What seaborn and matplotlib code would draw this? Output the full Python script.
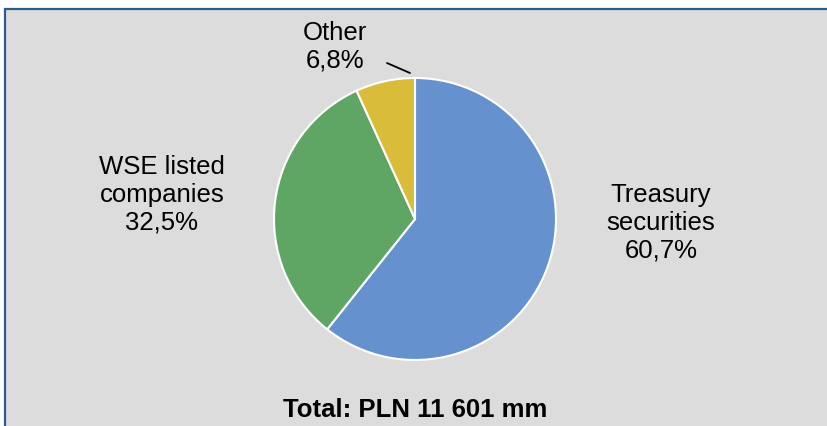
import matplotlib
matplotlib.use("Agg")
import matplotlib.pyplot as plt
from matplotlib.patches import Rectangle
import seaborn as sns

# Portfolio structure
categories = ["Treasury\nsecurities", "WSE listed\ncompanies", "Other"]
shares = [60.7, 32.5, 6.8]
colors = ["#6592CE", "#5FA563", "#D8BC3A"]
total_label = "Total: PLN 11 601 mm"

sns.set_theme(style="white")
plt.rcParams["font.family"] = ["Liberation Sans", "DejaVu Sans"]

W, H = 828, 426
fig = plt.figure(figsize=(W / 100, H / 100), dpi=100, facecolor="white")

# grey panel with a dark blue frame
fig.patches.append(Rectangle((5 / W, -0.02), 1.05, (H - 8.5) / H + 0.02,
                             transform=fig.transFigure, facecolor="#DCDCDC",
                             edgecolor="#2F5B8C", linewidth=1.6, zorder=-5))

cx, cy, r = 415, 219, 141
ax = fig.add_axes([(cx - r) / W, (H - cy - r) / H, 2 * r / W, 2 * r / H])
ax.set_zorder(2)
ax.set_facecolor("none")
ax.pie(shares, colors=colors, startangle=90, counterclock=False,
       wedgeprops=dict(edgecolor="white", linewidth=1.5), radius=1.0)
ax.set_xlim(-1, 1)
ax.set_ylim(-1, 1)
ax.set_aspect("equal")
ax.axis("off")

def fmt(v):
    return f"{v:.1f}".replace(".", ",") + "%"

def px(x, y):
    return x / W, 1 - y / H

label_pos = [(661, 223), (162, 195), (335, 47)]
for name, v, (x, y) in zip(categories, shares, label_pos):
    fx, fy = px(x, y)
    fig.text(fx, fy, f"{name}\n{fmt(v)}", ha="center", va="center",
             fontsize=18.5, color="black", linespacing=1.2, zorder=3)

# leader line for the small slice
(x0, y0), (x1, y1) = px(387, 63), px(410, 73)
fig.add_artist(plt.Line2D([x0, x1], [y0, y1], transform=fig.transFigure,
                          color="black", linewidth=1.3, zorder=3))

fx, fy = px(415, 410)
fig.text(fx, fy, total_label, ha="center", va="center", fontsize=18.5,
         fontweight="bold", color="black", zorder=3)

fig.savefig("out.png", dpi=100, facecolor="white")
